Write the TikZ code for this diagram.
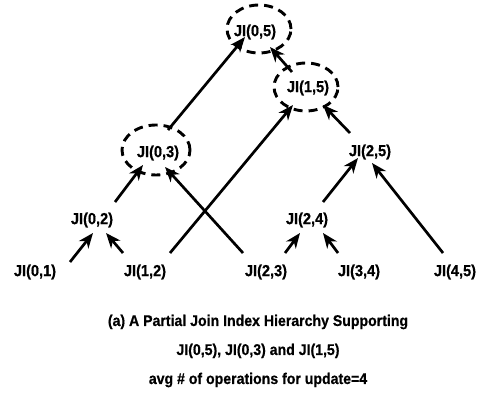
\documentclass[tikz,border=0pt]{standalone}
\usepackage{fontspec}
\setmainfont{Liberation Sans}
\newfontfamily\jifont{Liberation Sans}[FakeStretch=0.91,FakeBold=0.6]
\usetikzlibrary{arrows.meta}

\begin{document}
\begin{tikzpicture}[x=1pt,y=1pt,
  ji/.style={font=\jifont\bfseries\fontsize{16}{18}\selectfont,inner sep=0pt},
  up/.style={-{Stealth[length=15pt,width=12pt,inset=4.5pt]},line width=2.7pt},
  kept/.style={dash pattern=on 9pt off 6pt,line width=2.9pt}]
\useasboundingbox (0,0) rectangle (481,401);
% join indices, bottom row first
\node[ji](n01) at (35,129){JI(0,1)};
\node[ji](n12) at (145,129){JI(1,2)};
\node[ji](n23) at (266,129){JI(2,3)};
\node[ji](n34) at (359,129){JI(3,4)};
\node[ji](n45) at (455,129){JI(4,5)};
\node[ji](n02) at (92,181){JI(0,2)};
\node[ji](n24) at (307,181){JI(2,4)};
\node[ji](n03) at (158,248){JI(0,3)};
\node[ji](n25) at (370,249){JI(2,5)};
\node[ji](n15) at (308,313){JI(1,5)};
\node[ji](n05) at (255,369){JI(0,5)};
% the supported ones
\draw[kept]([shift={(4,3)}]n05.center) ellipse [x radius=32,y radius=24];
\draw[kept]([shift={(-2,1)}]n15.center) ellipse [x radius=32,y radius=24];
\draw[kept]([shift={(-2,3)}]n03.center) ellipse [x radius=34,y radius=25];
% updates
\draw[up]([shift={(35,10)}]n01.center)--([shift={(1,-13)}]n02.center);
\draw[up]([shift={(-22,19)}]n12.center)--([shift={(14,-13)}]n02.center);
\draw[up]([shift={(23,18)}]n02.center)--([shift={(-15,-12)}]n03.center);
\draw[up]([shift={(-23,19)}]n23.center)--([shift={(7,-14)}]n03.center);
\draw[up]([shift={(25,19)}]n12.center)--([shift={(-15,-17)}]n15.center);
\draw[up]([shift={(10,23)}]n03.center)--([shift={(-10,-5)}]n05.center);
\draw[up]([shift={(-16,16)}]n15.center)--([shift={(15,-15)}]n05.center);
\draw[up]([shift={(-20,19)}]n25.center)--([shift={(15,-17)}]n15.center);
\draw[up]([shift={(16,18)}]n24.center)--([shift={(-12,-6)}]n25.center);
\draw[up]([shift={(-12,19)}]n45.center)--([shift={(2,-11)}]n25.center);
\draw[up]([shift={(19,19)}]n23.center)--([shift={(-7,-13)}]n24.center);
\draw[up]([shift={(-21,19)}]n34.center)--([shift={(16,-13)}]n24.center);
% caption
\node[ji,align=center,font=\jifont\bfseries\fontsize{15.5}{29}\selectfont](cap) at (258,50)
  {(a) A Partial Join Index Hierarchy Supporting\\JI(0,5), JI(0,3) and JI(1,5)\\avg \# of operations for update=4};
\end{tikzpicture}
\end{document}
